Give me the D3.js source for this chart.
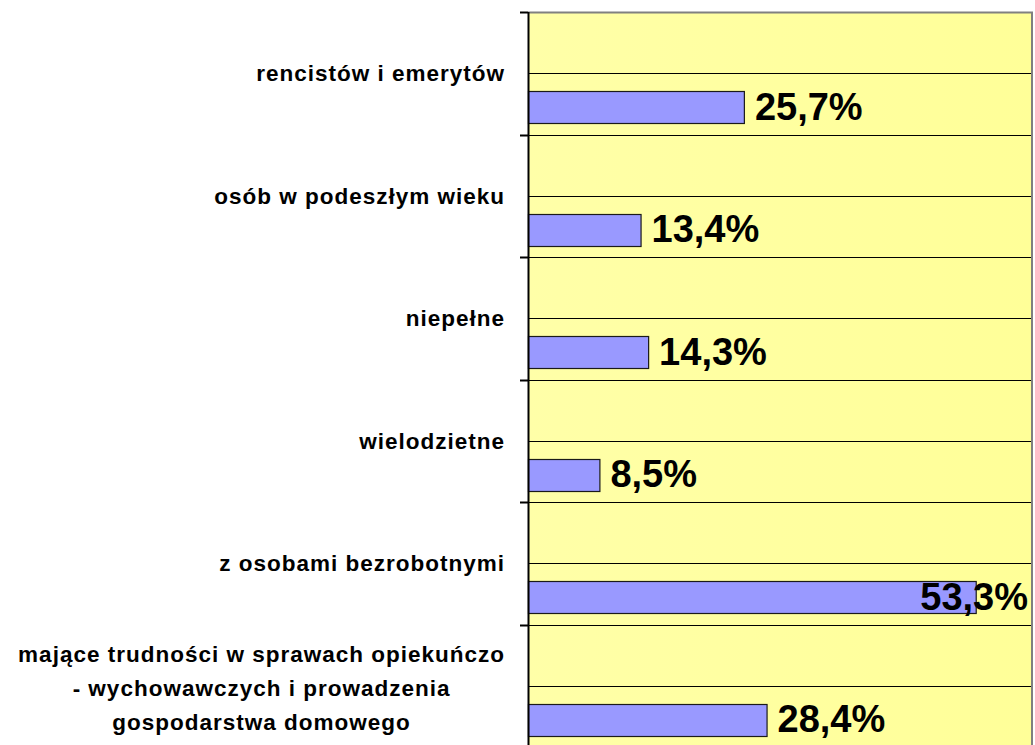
<!DOCTYPE html>
<html>
<head>
<meta charset="utf-8">
<script src="https://cdn.jsdelivr.net/npm/d3@7"></script>
<style>
  body { margin: 0; background: #fff; }
  text { font-family: "Liberation Sans", Arial, sans-serif; font-weight: bold; }
</style>
</head>
<body>
<div id="chart"></div>
<script>
// data, top to bottom
const categories = [
    ["rencistów i emerytów"],
    ["osób w podeszłym wieku"],
    ["niepełne"],
    ["wielodzietne"],
    ["z osobami bezrobotnymi"],
    ["mające trudności w sprawach opiekuńczo", "- wychowawczych i prowadzenia", "gospodarstwa domowego"]
];
const values = [25.7, 13.4, 14.3, 8.5, 53.3, 28.4];
const valueLabels = ["25,7%", "13,4%", "14,3%", "8,5%", "53,3%", "28,4%"];
const X_MAX = 60;

const WIDTH = 1035, HEIGHT = 745;
const PLOT_LEFT = 528, PLOT_RIGHT = 1032, PLOT_TOP = 12, BAND = 122.5;
const LABEL_RIGHT = 505;

const svg = d3.select("#chart").append("svg")
    .attr("width", WIDTH)
    .attr("height", HEIGHT);

const defs = svg.append("defs");
const grad = defs.append("linearGradient").attr("id", "bg").attr("x1", "0").attr("x2", "1").attr("y1", "0").attr("y2", "0");
grad.append("stop").attr("offset", "0%").attr("stop-color", "#ffffa8");
grad.append("stop").attr("offset", "100%").attr("stop-color", "#ffff98");

const idx = d3.range(categories.length);
const y = d3.scaleBand()
    .domain(idx)
    .range([PLOT_TOP, PLOT_TOP + BAND * categories.length])
    .paddingInner(0).paddingOuter(0);

const x = d3.scaleLinear()
    .domain([0, X_MAX])
    .range([PLOT_LEFT, PLOT_RIGHT]);

const plotBottom = PLOT_TOP + BAND * categories.length;

// plot area background
svg.append("rect")
    .attr("x", PLOT_LEFT).attr("y", PLOT_TOP)
    .attr("width", PLOT_RIGHT - PLOT_LEFT)
    .attr("height", plotBottom - PLOT_TOP)
    .attr("fill", "url(#bg)");

// gridlines at band edges and band middles
const gridVals = [];
idx.forEach(i => { gridVals.push(y(i)); gridVals.push(y(i) + y.bandwidth() / 2); });
svg.append("g").selectAll("line")
    .data(gridVals.slice(1))
    .join("line")
    .attr("x1", PLOT_LEFT).attr("x2", PLOT_RIGHT)
    .attr("y1", d => Math.round(d) + 0.5).attr("y2", d => Math.round(d) + 0.5)
    .attr("stroke", "#000").attr("stroke-width", 1);

// border top/right
svg.append("path")
    .attr("d", `M${PLOT_LEFT},${PLOT_TOP + 0.5}H${PLOT_RIGHT}V${plotBottom}`)
    .attr("fill", "none").attr("stroke", "#808080").attr("stroke-width", 2);

// bars
svg.append("g").selectAll("rect")
    .data(values)
    .join("rect")
    .attr("x", PLOT_LEFT + 0.5)
    .attr("y", (d, i) => Math.round(y(i) + y.bandwidth() * 0.645) + 0.5)
    .attr("width", d => x(d) - PLOT_LEFT)
    .attr("height", Math.round(y.bandwidth() * 0.26))
    .attr("fill", "#9999ff")
    .attr("stroke", "#1a1a1a").attr("stroke-width", 1.2);

// value labels
const vl = svg.append("g").selectAll("text")
    .data(values)
    .join("text")
    .attr("font-size", 38)
    .attr("fill", "#000")
    .attr("y", (d, i) => y(i) + y.bandwidth() * 0.645 + Math.round(y.bandwidth() * 0.26) - 3.5)
    .text((d, i) => valueLabels[i]);
vl.attr("x", function(d) {
    const w = this.getComputedTextLength();
    return Math.min(x(d) + 11, PLOT_RIGHT - 4 - w);
});

// y axis
const yAxis = svg.append("g").attr("transform", `translate(${PLOT_LEFT},0)`);
yAxis.append("line")
    .attr("x1", 0.5).attr("x2", 0.5)
    .attr("y1", PLOT_TOP).attr("y2", plotBottom)
    .attr("stroke", "#000").attr("stroke-width", 2);
yAxis.selectAll(".tick")
    .data(idx.map(i => y(i)))
    .join("line")
    .attr("class", "tick")
    .attr("x1", -8).attr("x2", 0)
    .attr("y1", d => Math.round(d) + 0.5).attr("y2", d => Math.round(d) + 0.5)
    .attr("stroke", "#000").attr("stroke-width", 2);

// category labels (lines centred inside a right-aligned block)
const LINE_H = 34;
categories.forEach((lines, i) => {
    const g = svg.append("g");
    const mid = y(i) + y.bandwidth() / 2 + (lines.length > 1 ? 2 : 0);
    const t = g.selectAll("text")
        .data(lines)
        .join("text")
        .attr("font-size", 22.5)
        .attr("letter-spacing", 1.0)
        .attr("fill", "#000")
        .attr("text-anchor", "middle")
        .attr("y", (d, j) => mid + (j - (lines.length - 1) / 2) * LINE_H + 8)
        .text(d => d);
    let maxW = 0;
    t.each(function() { maxW = Math.max(maxW, this.getComputedTextLength()); });
    t.attr("x", LABEL_RIGHT - maxW / 2);
});
</script>
</body>
</html>
